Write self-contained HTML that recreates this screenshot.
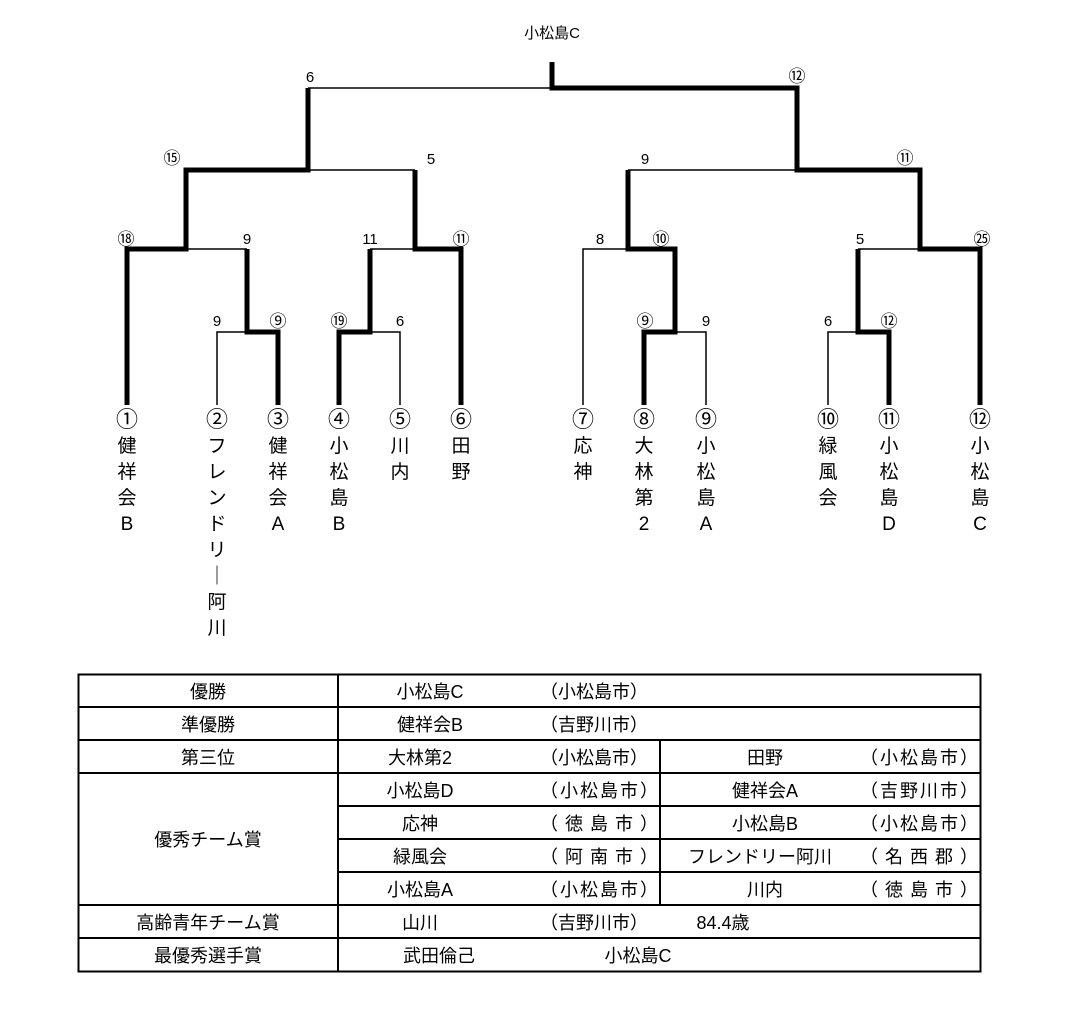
<!DOCTYPE html>
<html><head><meta charset="utf-8"><style>
body{margin:0;background:#fff;width:1080px;height:1035px;overflow:hidden;font-family:"Liberation Sans","Noto Sans CJK JP",sans-serif;}
svg{position:absolute;left:0;top:0}
.t{position:absolute;font-size:17px;line-height:20px;white-space:nowrap}
.c{transform:translateX(-50%)}
</style></head><body>
<svg width="1080" height="1035" font-family="Liberation Sans, Noto Sans CJK JP, sans-serif" font-size="15">
<g stroke="#000" fill="none" stroke-width="1.5">
<path d="M217 405V332H247M400 405V332H370M247 249H186M370 249H415M415 170H308M308 88H552M583 405V249H628M706 405V332H675M628 170H797M828 405V332H858M858 249H920"/>
</g>
<g stroke="#000" fill="none" stroke-width="5">
<path d="M127 405V249H186V170H308V88"/>
<path d="M278 405V332H247V249"/>
<path d="M339 405V332H370V249"/>
<path d="M461 405V249H415V170"/>
<path d="M552 62V88H797V170H920V249H980V405"/>
<path d="M644 405V332H675V249H628V170"/>
<path d="M889 405V332H858V249"/>
</g>
<g stroke="#000" fill="none" stroke-width="2">
<rect x="78.5" y="674.5" width="902" height="297"/>
<path d="M338 675V971M78 707H980M78 740H980M78 773H980M338 806H980M338 839H980M338 872H980M78 905H980M78 938H980M660 740V905"/>
</g>
<g text-anchor="middle">
<text x="552" y="38">小松島C</text>
<text x="310" y="82">6</text><text x="797" y="82" font-size="17">⑫</text>
<text x="172" y="164" font-size="17">⑮</text><text x="431" y="164">5</text>
<text x="645" y="164">9</text><text x="905" y="164" font-size="17">⑪</text>
<text x="126" y="245" font-size="17">⑱</text><text x="247" y="244">9</text>
<text x="370" y="244">11</text><text x="461" y="245" font-size="17">⑪</text>
<text x="600" y="244">8</text><text x="661" y="245" font-size="17">⑩</text>
<text x="860" y="244">5</text><text x="982" y="245" font-size="17">㉕</text>
<text x="217" y="326">9</text><text x="278" y="327" font-size="17">⑨</text>
<text x="339" y="327" font-size="17">⑲</text><text x="400" y="326">6</text>
<text x="645" y="327" font-size="17">⑨</text><text x="706" y="326">9</text>
<text x="828" y="326">6</text><text x="889" y="327" font-size="17">⑫</text>
</g>
<g text-anchor="middle" font-size="22">
<text x="127" y="427">①</text><text x="217" y="427">②</text><text x="278" y="427">③</text><text x="339" y="427">④</text><text x="400" y="427">⑤</text><text x="461" y="427">⑥</text>
<text x="583" y="427">⑦</text><text x="644" y="427">⑧</text><text x="706" y="427">⑨</text><text x="828" y="427">⑩</text><text x="889" y="427">⑪</text><text x="980" y="427">⑫</text>
</g>
<g text-anchor="middle" font-size="19">
<text x="127" y="452">健</text><text x="127" y="478">祥</text><text x="127" y="504">会</text><text x="127" y="530">B</text>
<text x="217" y="452">フ</text><text x="217" y="478">レ</text><text x="217" y="504">ン</text><text x="217" y="530">ド</text><text x="217" y="556">リ</text><text x="217" y="582">｜</text><text x="217" y="608">阿</text><text x="217" y="634">川</text>
<text x="278" y="452">健</text><text x="278" y="478">祥</text><text x="278" y="504">会</text><text x="278" y="530">A</text>
<text x="339" y="452">小</text><text x="339" y="478">松</text><text x="339" y="504">島</text><text x="339" y="530">B</text>
<text x="400" y="452">川</text><text x="400" y="478">内</text>
<text x="461" y="452">田</text><text x="461" y="478">野</text>
<text x="583" y="452">応</text><text x="583" y="478">神</text>
<text x="644" y="452">大</text><text x="644" y="478">林</text><text x="644" y="504">第</text><text x="644" y="530">2</text>
<text x="706" y="452">小</text><text x="706" y="478">松</text><text x="706" y="504">島</text><text x="706" y="530">A</text>
<text x="828" y="452">緑</text><text x="828" y="478">風</text><text x="828" y="504">会</text>
<text x="889" y="452">小</text><text x="889" y="478">松</text><text x="889" y="504">島</text><text x="889" y="530">D</text>
<text x="980" y="452">小</text><text x="980" y="478">松</text><text x="980" y="504">島</text><text x="980" y="530">C</text>
</g>
<g text-anchor="middle" font-size="18">
<text x="208" y="698">優勝</text><text x="208" y="731">準優勝</text><text x="208" y="764">第三位</text>
<text x="208" y="846">優秀チーム賞</text><text x="208" y="929">高齢青年チーム賞</text><text x="208" y="962">最優秀選手賞</text>
<text x="430" y="698">小松島C</text><text x="430" y="731">健祥会B</text>
<text x="420" y="764">大林第2</text><text x="420" y="797">小松島D</text><text x="420" y="830">応神</text><text x="420" y="863">緑風会</text><text x="420" y="896">小松島A</text>
<text x="420" y="929">山川</text><text x="439" y="962">武田倫己</text><text x="638" y="962">小松島C</text>
<text x="765" y="764">田野</text><text x="765" y="797">健祥会A</text><text x="765" y="830">小松島B</text><text x="760" y="863">フレンドリー阿川</text><text x="765" y="896">川内</text>
<text x="723" y="929">84.4歳</text>
</g>
<g font-size="18" text-anchor="start">
<text x="540" y="698">（小松島市）</text><text x="540" y="731">（吉野川市）</text><text x="540" y="764">（小松島市）</text>
<text x="540" y="797" textLength="118">（小松島市）</text><text x="540" y="830" textLength="118">（ 徳 島 市 ）</text><text x="540" y="863" textLength="118">（ 阿 南 市 ）</text><text x="540" y="896" textLength="118">（小松島市）</text>
<text x="540" y="929">（吉野川市）</text>
<text x="860" y="764" textLength="118">（小松島市）</text><text x="860" y="797" textLength="118">（吉野川市）</text><text x="860" y="830" textLength="118">（小松島市）</text><text x="860" y="863" textLength="118">（ 名 西 郡 ）</text><text x="860" y="896" textLength="118">（ 徳 島 市 ）</text>
</g>
</svg>
</body></html>
